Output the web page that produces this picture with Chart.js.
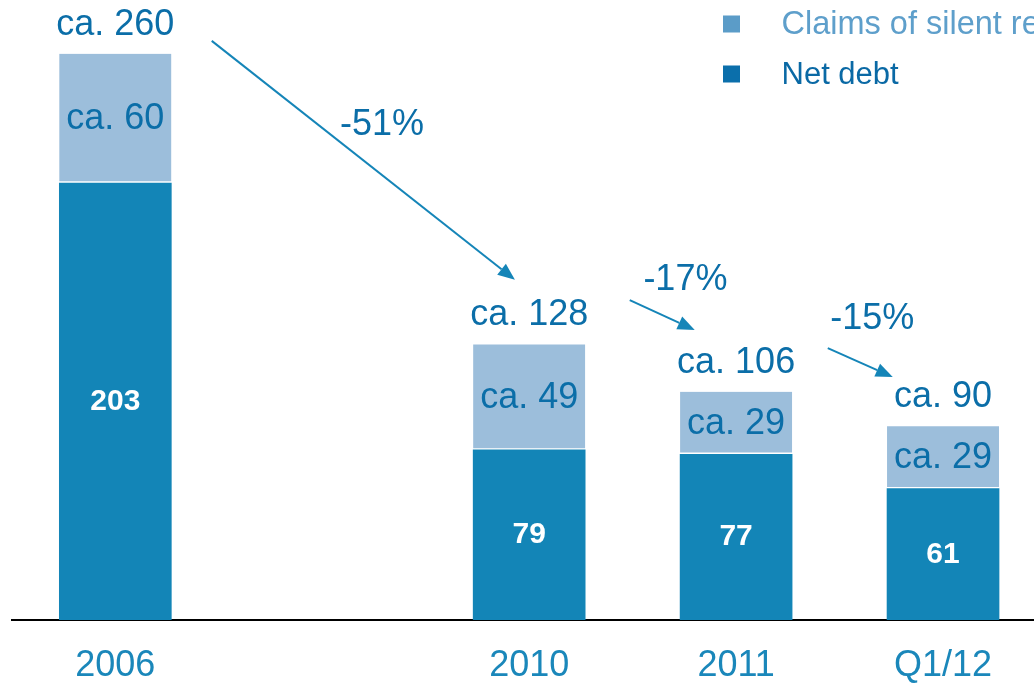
<!DOCTYPE html>
<html><head><meta charset="utf-8">
<script src="https://cdn.jsdelivr.net/npm/chart.js@4"></script>
<style>html,body{margin:0;padding:0;background:#fff;overflow:hidden;width:1034px;height:684px}#wrap{width:1047px;height:684px;position:relative}</style>
</head><body><div id="wrap"><canvas id="c"></canvas></div>
<script>
const categories = ['2006', '', '2010', '2011', 'Q1/12'];
const netDebt = [203, null, 79, 77, 61];
const claims = [60, null, 49, 29, 29];
const totalLabels = ['ca. 260', '', 'ca. 128', 'ca. 106', 'ca. 90'];
const claimsLabels = ['ca. 60', '', 'ca. 49', 'ca. 29', 'ca. 29'];
const seriesNames = ['Net debt', 'Claims of silent reserves'];
const changeLabels = ['-51%', '-17%', '-15%'];

const FONT = "'Liberation Sans', Arial, Helvetica, sans-serif";
const DARK = '#1385b7', LIGHT = '#9cbedb', TEXT = '#0b6ea8', AXISTEXT = '#1a87ba', ARROW = '#1585b8';
const LEG_COLORS = [['#0b6fab', '#0a69a5'], ['#5b9cc8', '#5e9fcb']];
const LEG_SIZES = [31, 32.5];

// annotation arrows, placed in data space (x: category index units, y: value units)
const arrowGeom = [
  {from: [0.466, 269], to: [1.931, 158], label: [1.289, 230]},
  {from: [2.486, 148.6], to: [2.800, 134.7], label: [2.755, 157.7]},
  {from: [3.443, 126.3], to: [3.757, 112.9], label: [3.658, 139.8]}
];

const overlay = {
  id: 'overlay',
  afterDatasetsDraw(chart) {
    const ctx = chart.ctx;
    const xs = chart.scales.x, ys = chart.scales.y;
    const m0 = chart.getDatasetMeta(0), m1 = chart.getDatasetMeta(1);
    ctx.save();
    ctx.textAlign = 'center';
    ctx.textBaseline = 'middle';
    categories.forEach((c, i) => {
      if (netDebt[i] == null) return;
      const b0 = m0.data[i], b1 = m1.data[i];
      ctx.font = 'bold 30px ' + FONT;
      ctx.fillStyle = '#fff';
      ctx.fillText(String(netDebt[i]), b0.x, (b0.y + b0.base) / 2);
      ctx.font = '36px ' + FONT;
      ctx.fillStyle = TEXT;
      ctx.fillText(claimsLabels[i], b1.x, (b1.y + b1.base) / 2 + 1);
      ctx.fillText(totalLabels[i], b1.x, b1.y - 29);
    });
    const p0 = xs.getPixelForValue(0), p1 = xs.getPixelForValue(1);
    const X = v => p0 + v * (p1 - p0), Y = v => ys.getPixelForValue(v);
    arrowGeom.forEach((a, k) => {
      const x1 = X(a.from[0]), y1 = Y(a.from[1]);
      const x2 = X(a.to[0]), y2 = Y(a.to[1]);
      const ang = Math.atan2(y2 - y1, x2 - x1);
      const hl = 17, hw = 7;
      const bx = x2 - hl * Math.cos(ang), by = y2 - hl * Math.sin(ang);
      ctx.strokeStyle = ARROW;
      ctx.lineWidth = 2;
      ctx.beginPath();
      ctx.moveTo(x1, y1);
      ctx.lineTo(bx, by);
      ctx.stroke();
      ctx.fillStyle = ARROW;
      ctx.beginPath();
      ctx.moveTo(x2, y2);
      ctx.lineTo(bx + hw * Math.sin(ang), by - hw * Math.cos(ang));
      ctx.lineTo(bx - hw * Math.sin(ang), by + hw * Math.cos(ang));
      ctx.closePath();
      ctx.fill();
      ctx.font = '36px ' + FONT;
      ctx.fillStyle = TEXT;
      ctx.fillText(changeLabels[k], X(a.label[0]), Y(a.label[1]));
    });
    // legend (top right, series listed top-down as stacked)
    ctx.textAlign = 'left';
    const rows = [1, 0];
    rows.forEach((s, r) => {
      const cy = 24 + r * 50;
      ctx.fillStyle = LEG_COLORS[s][0];
      ctx.fillRect(723, cy - 8.5, 17, 17);
      ctx.font = LEG_SIZES[s] + 'px ' + FONT;
      ctx.fillStyle = LEG_COLORS[s][1];
      ctx.fillText(seriesNames[s], 781.5, cy + 1);
    });
    ctx.restore();
  }
};

new Chart(document.getElementById('c'), {
  type: 'bar',
  data: {
    labels: categories,
    datasets: [
      {label: seriesNames[0], data: netDebt, backgroundColor: DARK, borderWidth: 0},
      {label: seriesNames[1], data: claims, backgroundColor: LIGHT, borderColor: '#ffffff',
       borderWidth: {top: 0, left: 0, right: 0, bottom: 2}, borderSkipped: false}
    ]
  },
  options: {
    responsive: true,
    maintainAspectRatio: false,
    animation: false,
    devicePixelRatio: 1,
    layout: {padding: {left: 11.85, right: 0.5, top: 0, bottom: 0}},
    datasets: {bar: {barThickness: 112}},
    plugins: {legend: {display: false}, tooltip: {enabled: false}},
    scales: {
      x: {
        stacked: true,
        grid: {display: false, drawTicks: false},
        border: {display: true, color: '#000', width: 2},
        ticks: {color: AXISTEXT, font: {family: FONT, size: 36}, padding: 24},
        afterFit: s => { s.height = 64; }
      },
      y: {stacked: true, display: false, min: 0, max: 288}
    }
  },
  plugins: [overlay]
});
</script>
</body></html>
